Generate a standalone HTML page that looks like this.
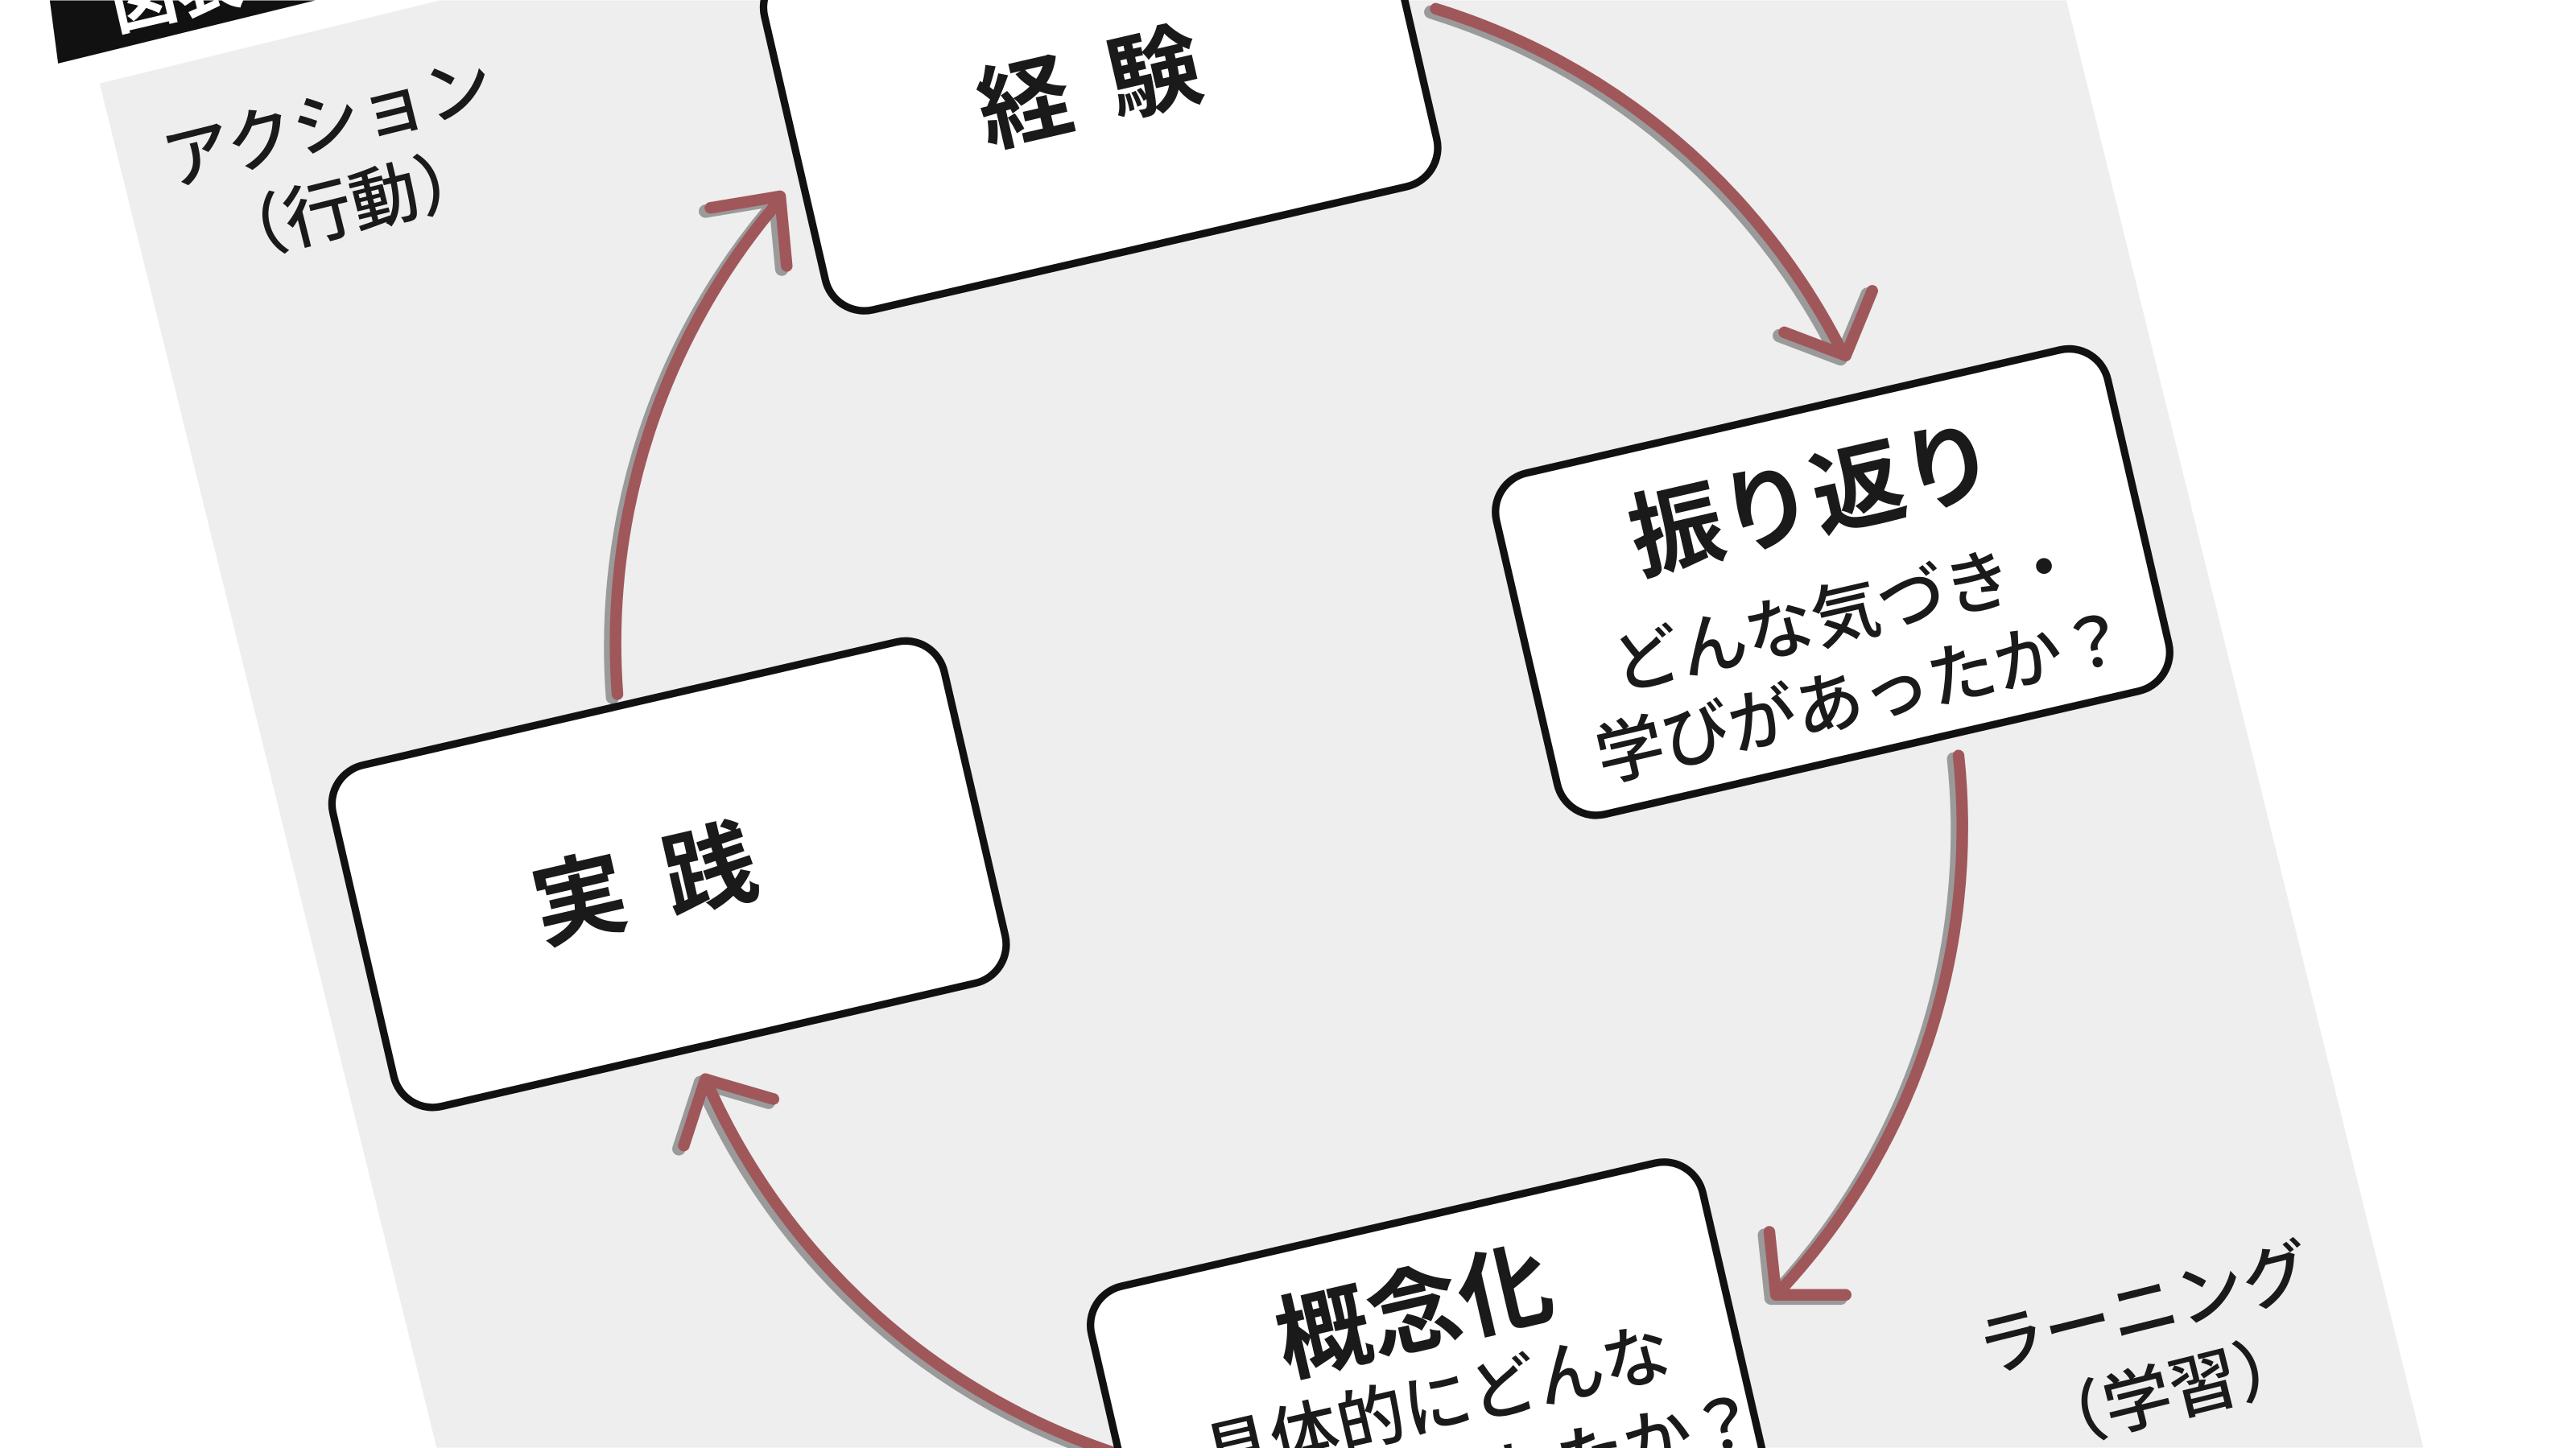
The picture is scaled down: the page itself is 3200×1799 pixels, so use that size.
<!DOCTYPE html>
<html><head><meta charset="utf-8"><style>
html,body{margin:0;padding:0;background:#fff;width:3200px;height:1799px;overflow:hidden;}
svg{display:block;}
text{font-family:"Liberation Sans","Noto Sans CJK JP",sans-serif;fill:#1a1a1a;}
</style></head><body>
<svg width="3200" height="1799" viewBox="0 0 1552 872" xmlns="http://www.w3.org/2000/svg">
<rect width="1552" height="872" fill="#fff"/>
<polygon points="60,50 265,0 1245,0 1460,872 263,872" fill="#eeeeee"/>
<polygon points="30,0 190,0 35,38" fill="#111"/>
<text x="70" y="18" font-size="40" font-weight="700" style="fill:#fff" transform="rotate(-13 70 18)">図表</text>

<g fill="none" stroke-linecap="round" stroke-linejoin="round">
<g stroke="#9a9a9a" stroke-width="8" transform="translate(-3,2)">
<path d="M865 5 A410 410 0 0 1 1110 212"/>
<path d="M1180 455 A410 410 0 0 1 1072 778"/>
<path d="M680 878 A410 410 0 0 1 425 650"/>
<path d="M372 418 A410 410 0 0 1 470 120"/>
<polyline points="1075,200 1112,214 1128,175"/>
<polyline points="1066,742 1070,780 1112,780"/>
<polyline points="412,690 425,650 466,662"/>
<polyline points="428,125 470,118 474,160"/>
</g>
<g stroke="#a0575a" stroke-width="7">
<path d="M865 5 A410 410 0 0 1 1110 212"/>
<path d="M1180 455 A410 410 0 0 1 1072 778"/>
<path d="M680 878 A410 410 0 0 1 425 650"/>
<path d="M372 418 A410 410 0 0 1 470 120"/>
<polyline points="1075,200 1112,214 1128,175"/>
<polyline points="1066,742 1070,780 1112,780"/>
<polyline points="412,690 425,650 466,662"/>
<polyline points="428,125 470,118 474,160"/>
</g>
</g>

<g fill="#fff" stroke="#111" stroke-width="4.5">
<rect x="-189" y="-105" width="378" height="211" rx="24" transform="translate(663,46) rotate(-13)"/>
<rect x="-189" y="-105" width="378" height="211" rx="24" transform="translate(1104,350) rotate(-13)"/>
<rect x="-189" y="-105" width="378" height="211" rx="24" transform="translate(403,526) rotate(-13)"/>
<rect x="-189" y="-105" width="378" height="211" rx="24" transform="translate(860,840) rotate(-13)"/>
</g>

<g text-anchor="middle" font-weight="700">
<text x="668" y="70" font-size="56" letter-spacing="24" transform="rotate(-13 668 50)">経験</text>
<text x="400" y="550" font-size="56" letter-spacing="24" transform="rotate(-13 400 530)">実践</text>
<text x="1092" y="320" font-size="56" transform="rotate(-13 1092 300)">振り返り</text>
<text x="852" y="810" font-size="56" transform="rotate(-13 852 790)">概念化</text>
</g>
<g text-anchor="middle" font-size="41" font-weight="500">
<text x="1112" y="384" transform="rotate(-13 1112 370)">どんな気づき・</text>
<text x="1122" y="434" transform="rotate(-13 1122 420)">学びがあったか？</text>
<text x="866" y="860" transform="rotate(-13 866 846)">具体的にどんな</text>
<text x="879" y="910" transform="rotate(-13 879 896)">教訓が得られたか？</text>
<text x="198" y="88" transform="rotate(-14 198 75)">アクション</text>
<text x="212" y="138" transform="rotate(-14 212 125)">（行動）</text>
<text x="1292" y="803" transform="rotate(-14 1292 790)">ラーニング</text>
<text x="1308" y="853" transform="rotate(-14 1308 840)">（学習）</text>
</g>
</svg>
</body></html>
